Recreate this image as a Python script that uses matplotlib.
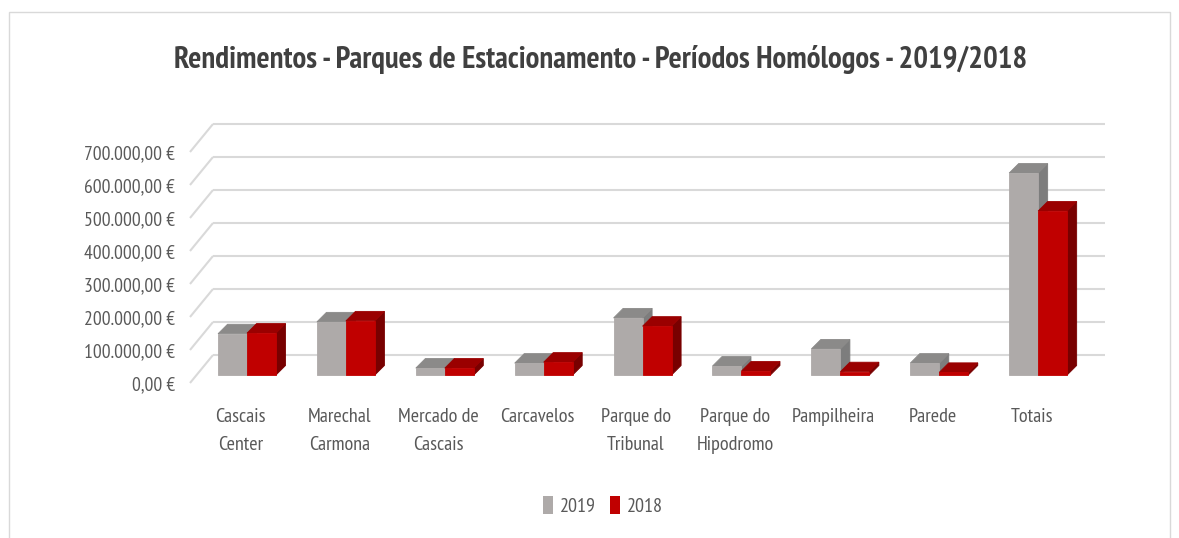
import matplotlib.pyplot as plt
from matplotlib.patches import Polygon, Rectangle, Patch

categories = ['Cascais\nCenter', 'Marechal\nCarmona', 'Mercado de\nCascais', 'Carcavelos',
              'Parque do\nTribunal', 'Parque do\nHipodromo', 'Pampilheira', 'Parede', 'Totais']
v2019 = [125000, 161000, 21000, 36000, 173000, 27000, 79000, 36000, 612000]
v2018 = [127000, 164000, 21000, 39000, 148000, 12000, 10000, 8000, 497000]
yticks = [0, 100000, 200000, 300000, 400000, 500000, 600000, 700000]

plt.rcParams['font.family'] = ['PT Sans Narrow', 'DejaVu Sans']

W, H = 1179, 538
fig = plt.figure(figsize=(W / 100, H / 100), dpi=100)
fig.patches.append(Rectangle((9 / W, -0.01), 1161 / W, 1 - 12 / H + 0.01,
                             transform=fig.transFigure, fill=False,
                             ec='#d9d9d9', lw=1))

# front plane of the floor: left 190px, zero at 383px, 700k at 152px
ax = fig.add_axes([190 / W, (H - 383) / H, 892 / W, 231 / H])
xlim = (-0.51, 8.51)
ylim = (0, 700000)
ax.set_xlim(*xlim)
ax.set_ylim(*ylim)
for s in ax.spines.values():
    s.set_visible(False)

sx = (xlim[1] - xlim[0]) / 892.0
sy = (ylim[1] - ylim[0]) / 231.0


def off(dx, dy):
    return dx * sx, dy * sy


grid = '#d9d9d9'
bx, by = off(23, 28)
for v in yticks:
    ax.plot([xlim[0], xlim[0] + bx], [v, v + by], color=grid, lw=1.5,
            clip_on=False, zorder=1, solid_capstyle='butt')
    ax.plot([xlim[0] + bx, xlim[1] + bx], [v + by, v + by], color=grid, lw=1.5,
            clip_on=False, zorder=1, solid_capstyle='butt')

fx, fy = off(6.6, 8)     # bar front face depth
dx, dy = off(9.5, 9.5)   # bar depth
bw = 29 * sx


def bar3d(x0, h, front, top, side):
    x0 = x0 + fx
    x1 = x0 + bw
    y0, y1 = fy, fy + h
    kw = dict(clip_on=False, zorder=3, lw=0.6)
    ax.add_patch(Polygon([(x1, y0), (x1 + dx, y0 + dy), (x1 + dx, y1 + dy), (x1, y1)],
                         fc=side, ec=side, **kw))
    ax.add_patch(Polygon([(x0, y1), (x1, y1), (x1 + dx, y1 + dy), (x0 + dx, y1 + dy)],
                         fc=top, ec=top, **kw))
    ax.add_patch(Polygon([(x0, y0), (x1, y0), (x1, y1), (x0, y1)],
                         fc=front, ec=front, **kw))


for i in range(len(categories)):
    bar3d(i - bw, v2019[i], '#aeaaa9', '#8b8a89', '#7d7d7d')
    bar3d(i, v2018[i], '#c00000', '#9a0000', '#780000')

txt = '#595959'
ax.set_yticks(yticks)
ax.set_yticklabels(['{:,.2f} €'.format(v).replace(',', 'X').replace('.', ',').replace('X', '.')
                    for v in yticks])
ax.set_xticks(range(len(categories)))
ax.set_xticklabels(categories)
ax.tick_params(axis='y', length=0, pad=11, labelsize=14, labelcolor=txt)
ax.tick_params(axis='x', length=0, pad=18, labelsize=14.5, labelcolor=txt)
for t in ax.get_xticklabels():
    t.set_linespacing(1.75)
    t.set_verticalalignment('top')

fig.text(601 / W, 1 - 60 / H, 'Rendimentos - Parques de Estacionamento - Períodos Homólogos - 2019/2018',
         ha='center', va='center', fontsize=22.2, fontweight='bold', color='#404040')

handles = [Patch(fc='#aeaaa9', ec='none', label='2019'),
           Patch(fc='#c00000', ec='none', label='2018')]
leg = fig.legend(handles=handles, loc='center', bbox_to_anchor=(603 / W, 1 - 506 / H),
                 ncol=2, frameon=False, fontsize=14.5, handlelength=0.5, handleheight=1.0,
                 handletextpad=0.35, columnspacing=0.7)
for t in leg.get_texts():
    t.set_color(txt)

fig.savefig('out.png', dpi=100)
